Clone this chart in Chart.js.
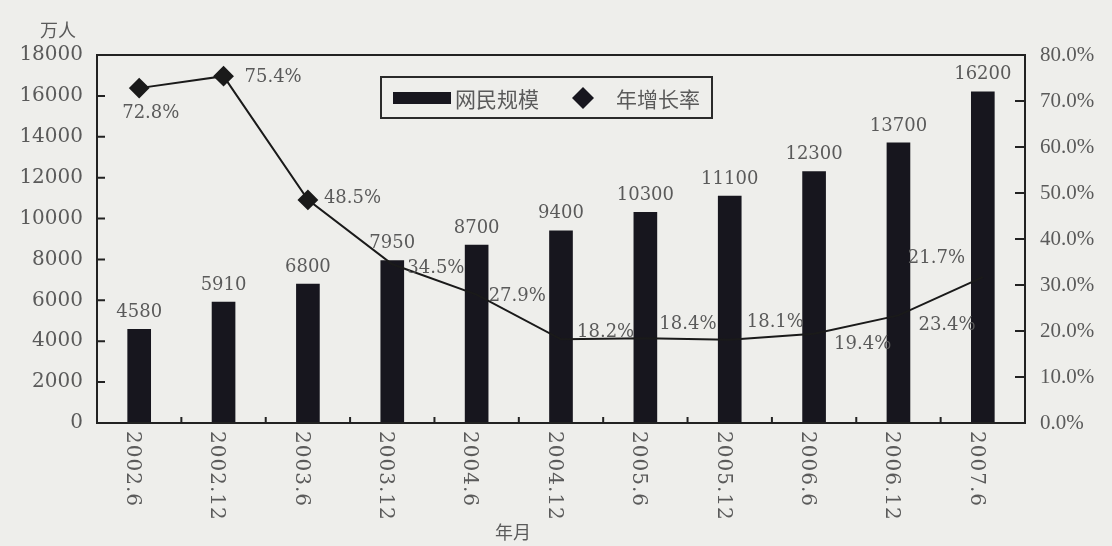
<!DOCTYPE html>
<html>
<head>
<meta charset="utf-8">
<script src="https://cdn.jsdelivr.net/npm/chart.js@4.4.1/dist/chart.umd.min.js"></script>
<style>
  html, body { margin: 0; padding: 0; background: #eeeeeb; }
  canvas { display: block; }
</style>
</head>
<body>
<canvas id="chart" width="1112" height="546"></canvas>
<script>
  // data
  const months = ['2002.6', '2002.12', '2003.6', '2003.12', '2004.6', '2004.12', '2005.6', '2005.12', '2006.6', '2006.12', '2007.6'];
  const users = [4580, 5910, 6800, 7950, 8700, 9400, 10300, 11100, 12300, 13700, 16200];
  const growth = [72.8, 75.4, 48.5, 34.5, 27.9, 18.2, 18.4, 18.1, 19.4, 23.4, 31.7];
  const growthLabels = ['72.8%', '75.4%', '48.5%', '34.5%', '27.9%', '18.2%', '18.4%', '18.1%', '19.4%', '23.4%', '21.7%'];
  const growthMarkers = [true, true, true, false, false, false, false, false, false, false, false];

  // label placement next to each growth point [dx, dy]
  const growthLabelOffset = [[-17, 25], [21, 1], [16, -2], [15, 4], [12, 2], [16, -7], [14, -14], [17, -17], [20, 11], [20, 10], [-75, -19]];

  const barColor = '#17161e';
  const textColor = '#5a5a5a';
  const serif = '"DejaVu Serif", serif';
  const cjk = '"Noto Sans CJK SC", sans-serif';

  const decor = {
    id: 'decor',
    beforeDraw(chart) {
      const ctx = chart.ctx;
      ctx.save();
      ctx.fillStyle = '#eeeeeb';
      ctx.fillRect(0, 0, chart.width, chart.height);
      ctx.restore();
    },
    afterDraw(chart) {
      const ctx = chart.ctx;
      const a = chart.chartArea;
      const x = chart.scales.x, y = chart.scales.y, y1 = chart.scales.y1;
      ctx.save();

      // frame
      ctx.strokeStyle = '#222';
      ctx.lineWidth = 2;
      ctx.strokeRect(a.left, a.top, a.right - a.left, a.bottom - a.top);

      // inward ticks
      ctx.beginPath();
      y.ticks.forEach((t, i) => {
        const py = y.getPixelForTick(i);
        ctx.moveTo(a.left, py); ctx.lineTo(a.left + 8, py);
      });
      y1.ticks.forEach((t, i) => {
        const py = y1.getPixelForTick(i);
        ctx.moveTo(a.right, py); ctx.lineTo(a.right - 10, py);
      });
      const slot = (a.right - a.left) / months.length;
      for (let k = 1; k < months.length; k++) {
        const px = a.left + k * slot;
        ctx.moveTo(px, a.bottom); ctx.lineTo(px, a.bottom - 6);
      }
      ctx.stroke();

      // bar values
      const barMeta = chart.getDatasetMeta(0);
      ctx.fillStyle = textColor;
      ctx.font = '18px ' + serif;
      ctx.textAlign = 'center';
      ctx.textBaseline = 'bottom';
      barMeta.data.forEach((bar, i) => {
        ctx.fillText(String(users[i]), bar.x, bar.y - 8);
      });

      // growth labels
      const lineMeta = chart.getDatasetMeta(1);
      ctx.textAlign = 'left';
      ctx.textBaseline = 'middle';
      lineMeta.data.forEach((pt, i) => {
        const off = growthLabelOffset[i];
        ctx.fillText(growthLabels[i], pt.x + off[0], pt.y + off[1]);
      });

      // x labels, rotated clockwise
      ctx.font = '20px ' + serif;
      ctx.letterSpacing = '1px';
      months.forEach((m, i) => {
        ctx.save();
        ctx.translate(x.getPixelForValue(i) - 7, a.bottom + 8);
        ctx.rotate(Math.PI / 2);
        ctx.fillText(m, 0, 0);
        ctx.restore();
      });
      ctx.letterSpacing = '0px';

      // axis titles
      ctx.font = '18px ' + cjk;
      ctx.textAlign = 'center';
      ctx.fillText('万人', 58, 30);
      ctx.fillText('年月', 513, 532);

      // legend
      ctx.strokeStyle = '#2a2a2a';
      ctx.lineWidth = 2;
      ctx.strokeRect(381, 77, 331, 41);
      ctx.fillStyle = barColor;
      ctx.fillRect(393, 92, 58, 12);
      ctx.beginPath();
      ctx.moveTo(583, 87); ctx.lineTo(594, 98); ctx.lineTo(583, 109); ctx.lineTo(572, 98);
      ctx.closePath();
      ctx.fill();
      ctx.fillStyle = textColor;
      ctx.font = '21px ' + cjk;
      ctx.textAlign = 'left';
      ctx.fillText(chart.data.datasets[0].label, 455, 99);
      ctx.fillText(chart.data.datasets[1].label, 616, 99);

      ctx.restore();
    }
  };

  new Chart(document.getElementById('chart'), {
    data: {
      labels: months,
      datasets: [{
        type: 'bar',
        label: '网民规模',
        data: users,
        yAxisID: 'y',
        backgroundColor: barColor,
        barThickness: 23,
        order: 2
      }, {
        type: 'line',
        label: '年增长率',
        data: growth,
        yAxisID: 'y1',
        borderColor: '#1a1a1a',
        borderWidth: 2,
        tension: 0,
        pointStyle: 'rectRot',
        pointRadius: growthMarkers.map(m => m ? 9 : 0),
        pointBackgroundColor: '#1a1a1a',
        pointBorderColor: '#1a1a1a',
        order: 1
      }]
    },
    options: {
      responsive: false,
      animation: false,
      devicePixelRatio: 1,
      layout: { padding: { top: 55, left: 0, right: 0, bottom: 0 } },
      plugins: {
        legend: { display: false },
        tooltip: { enabled: false }
      },
      scales: {
        x: {
          offset: true,
          grid: { display: false, drawTicks: false },
          border: { display: false },
          ticks: { display: false },
          afterFit: s => { s.height = 123; }
        },
        y: {
          position: 'left',
          min: 0,
          max: 18000,
          grid: { display: false, drawTicks: false },
          border: { display: false },
          ticks: {
            stepSize: 2000,
            padding: 14,
            color: textColor,
            font: { family: serif, size: 20 },
            callback: v => String(v)
          },
          afterFit: s => { s.width = 97; }
        },
        y1: {
          position: 'right',
          min: 0,
          max: 80,
          grid: { display: false, drawTicks: false },
          border: { display: false },
          ticks: {
            stepSize: 10,
            padding: 15,
            color: textColor,
            font: { family: '"Liberation Serif", serif', size: 21 },
            callback: v => v.toFixed(1) + '%'
          },
          afterFit: s => { s.width = 87; }
        }
      }
    },
    plugins: [decor]
  });
</script>
</body>
</html>
